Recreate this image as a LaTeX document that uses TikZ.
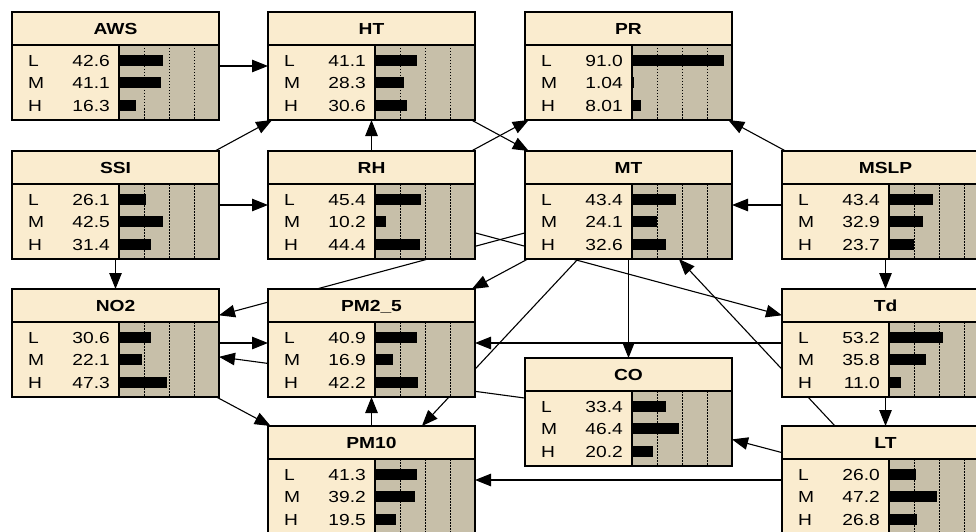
\documentclass[tikz,border=0pt]{standalone}
\usepackage{fontspec}
\newfontfamily\netfont[FakeStretch=1.2]{Liberation Sans}
\usetikzlibrary{arrows.meta}
\pgfdeclarelayer{paper}
\pgfdeclarelayer{links}
\pgfsetlayers{paper,links,main}
\definecolor{boxcream}{RGB}{250,236,207}
\definecolor{bartan}{RGB}{199,191,169}

\tikzset{
  frame/.style={line width=1.4pt, draw=black},
  gridline/.style={line width=1pt, dash pattern=on 1.5pt off 1.5pt},
  link/.style={line width=1.1pt, -{Triangle[length=16pt,width=12.5pt]}},
  statetext/.style={inner sep=0pt, text height=11.5pt, text depth=0pt,
    font=\netfont\fontsize{16}{19}\selectfont},
  titletext/.style={inner sep=0pt, text height=11.5pt, text depth=0pt,
    font=\netfont\fontsize{16}{19}\selectfont\bfseries},
  hull/.style={inner sep=0pt, outer sep=0pt, minimum width=207pt,
    minimum height=108pt, anchor=north west},
}

% Belief-bar box: name, left, top, title, L, M, H
\newcommand\bnnode[7]{%
  \fill[boxcream] (#2,#3) rectangle ++(207,108);
  \fill[bartan] (#2+107,#3+33) rectangle (#2+207,#3+108);
  \foreach \g in {25,50,75}
    \draw[gridline] (#2+107+\g,#3+33) -- (#2+107+\g,#3+108);
  \foreach \bval/\brow/\blab in {#5/48.5/L,#6/70.5/M,#7/93.5/H} {
    \fill[black] (#2+108,#3+\brow-5.5) rectangle (#2+108+\bval,#3+\brow+5.5);
    \node[statetext,anchor=west] at (#2+16,#3+\brow) {\blab};
    \node[statetext,anchor=east] at (#2+98,#3+\brow) {\bval};
  }
  \node[titletext] at (#2+103.5,#3+16.5) {#4};
  \draw[frame] (#2,#3) rectangle ++(207,108);
  \draw[frame] (#2,#3+33) -- ++(207,0);
  \draw[frame] (#2+107,#3+33) -- ++(0,75);
  \node[hull] (#1) at (#2,#3) {};
}

\begin{document}
\begin{tikzpicture}[x=1pt,y=-1pt]
\useasboundingbox (0,0) rectangle (976,532);
\clip (0,0) rectangle (976,532);
\begin{pgfonlayer}{paper}
  \fill[white] (0,0) rectangle (976,532);
\end{pgfonlayer}

\bnnode{AWS}{12}{12}{AWS}{42.6}{41.1}{16.3}
\bnnode{HT}{268}{12}{HT}{41.1}{28.3}{30.6}
\bnnode{PR}{525}{12}{PR}{91.0}{1.04}{8.01}
\bnnode{SSI}{12}{151}{SSI}{26.1}{42.5}{31.4}
\bnnode{RH}{268}{151}{RH}{45.4}{10.2}{44.4}
\bnnode{MT}{525}{151}{MT}{43.4}{24.1}{32.6}
\bnnode{MSLP}{782}{151}{MSLP}{43.4}{32.9}{23.7}
\bnnode{NOtwo}{12}{289}{NO2}{30.6}{22.1}{47.3}
\bnnode{PMtwofive}{268}{289}{PM2\_5}{40.9}{16.9}{42.2}
\bnnode{Td}{782}{289}{Td}{53.2}{35.8}{11.0}
\bnnode{CO}{525}{358}{CO}{33.4}{46.4}{20.2}
\bnnode{PMten}{268}{426}{PM10}{41.3}{39.2}{19.5}
\bnnode{LT}{782}{426}{LT}{26.0}{47.2}{26.8}

% links run from the parent's centre to the child's border, under the boxes
\begin{pgfonlayer}{links}
  \foreach \pa/\ch in {AWS/HT, SSI/HT, SSI/RH, SSI/NOtwo, RH/HT, RH/PR,
      HT/MT, MSLP/PR, MSLP/MT, MSLP/Td, Td/LT, MT/CO, MT/NOtwo,
      MT/PMtwofive, MT/PMten, RH/Td, LT/MT, NOtwo/PMtwofive, CO/NOtwo,
      NOtwo/PMten, PMten/PMtwofive, Td/PMtwofive, LT/PMten, LT/CO}
    \draw[link] (\pa.center) -- (\ch);
\end{pgfonlayer}
\end{tikzpicture}
\end{document}
